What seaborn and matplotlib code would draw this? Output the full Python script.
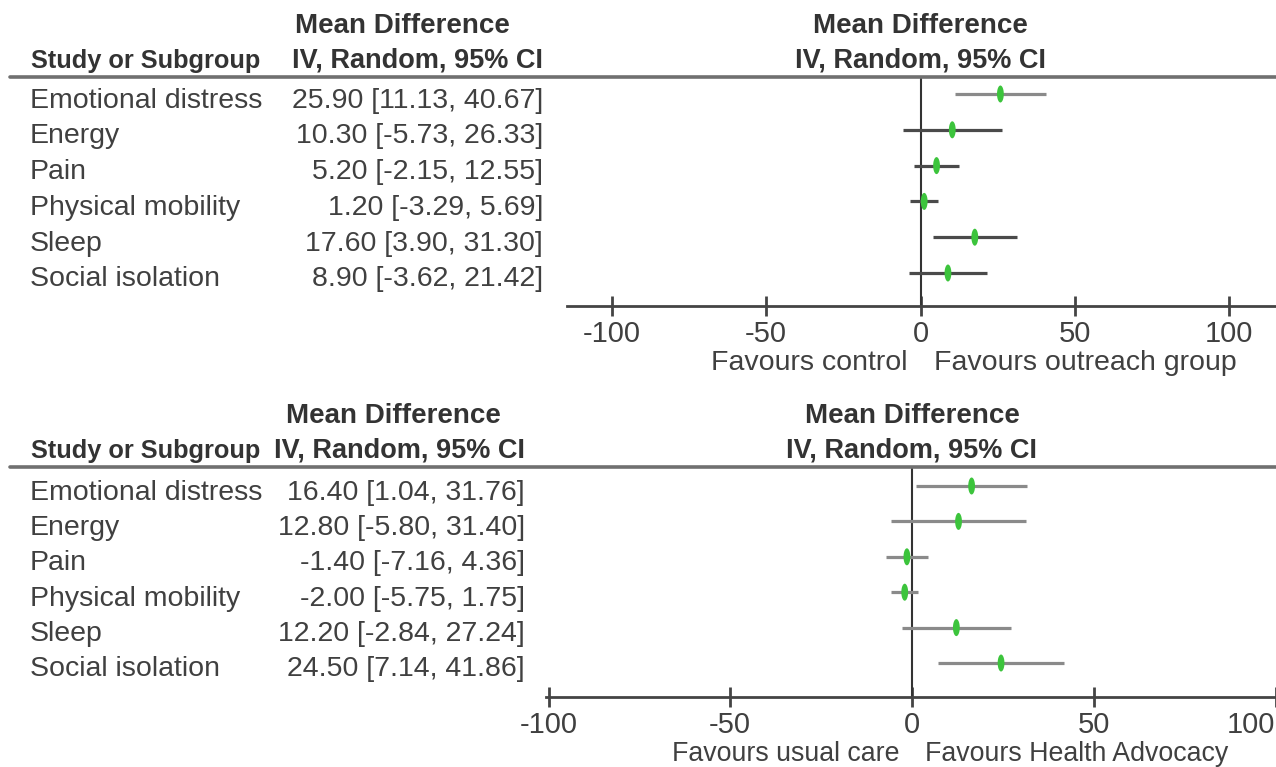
import numpy as np
import pandas as pd
import matplotlib
matplotlib.use("Agg")
import matplotlib.pyplot as plt
import seaborn as sns
from matplotlib.path import Path
from matplotlib.lines import Line2D
from matplotlib.transforms import blended_transform_factory

# ---------------- data ----------------
outcomes = ["Emotional distress", "Energy", "Pain", "Physical mobility", "Sleep", "Social isolation"]

outreach_md = [25.90, 10.30, 5.20, 1.20, 17.60, 8.90]
outreach_lo = [11.13, -5.73, -2.15, -3.29, 3.90, -3.62]
outreach_hi = [40.67, 26.33, 12.55, 5.69, 31.30, 21.42]

advocacy_md = [16.40, 12.80, -1.40, -2.00, 12.20, 24.50]
advocacy_lo = [1.04, -5.80, -7.16, -5.75, -2.84, 7.14]
advocacy_hi = [31.76, 31.40, 4.36, 1.75, 27.24, 41.86]

tick_values = [-100, -50, 0, 50, 100]
favours_top = ("Favours control", "Favours outreach group")
favours_bottom = ("Favours usual care", "Favours Health Advocacy")
header_left = "Study or Subgroup"
header_md = "Mean Difference"
header_method = "IV, Random, 95% CI"

# ---------------- style ----------------
sns.set_theme(style="white")
plt.rcParams["font.family"] = ["Liberation Sans", "DejaVu Sans"]
TXT = "#404040"
HDR = "#333333"
FS = 20.5
W, H = 1276, 767

fig = plt.figure(figsize=(W / 100, H / 100), dpi=100)
fig.patch.set_facecolor("white")

def fx(x):
    return x / W

def fy(y):
    return 1 - y / H

# ellipse marker (vertical)
t = np.linspace(0, 2 * np.pi, 40)
ell = Path(np.column_stack([0.40 * np.cos(t), np.sin(t)]))


def panel(md, lo, hi, ci_colors, geom, favours, fav_fs):
    (ax_l, ax_r, y_head, y_axis, row0, row_step, x0px, px_per_unit,
     val_right, md_center, y_mdb, y_ivb) = geom
    df = pd.DataFrame({"outcome": outcomes, "md": md, "lo": lo, "hi": hi,
                       "row": np.arange(len(outcomes))})
    ax = fig.add_axes([fx(ax_l), fy(y_axis), fx(ax_r - ax_l), (y_axis - y_head) / H])
    ax.set_xlim((ax_l - x0px) / px_per_unit, (ax_r - x0px) / px_per_unit)
    ax.set_ylim((y_axis - row0) / row_step, (y_head - row0) / row_step)
    ax.axvline(0, color="#333333", lw=1.5, zorder=1)
    ax.hlines(df["row"], df["lo"], df["hi"], colors=ci_colors, lw=2.3, zorder=2)
    sns.scatterplot(data=df, x="md", y="row", marker=ell, s=150, color="#3cc43c",
                    edgecolor="none", linewidth=0, ax=ax, zorder=3, legend=False)
    for s in ["left", "right", "top"]:
        ax.spines[s].set_visible(False)
    ax.spines["bottom"].set_color("#444444")
    ax.spines["bottom"].set_linewidth(2)
    ax.set_xticks(tick_values)
    ax.set_xticklabels([str(v) for v in tick_values])
    ax.tick_params(axis="x", direction="inout", length=14, width=2, color="#444444",
                   labelsize=FS + 0.5, labelcolor=TXT, pad=3, bottom=True)
    ax.set_yticks([])
    ax.set_xlabel("")
    ax.set_ylabel("")
    ax.patch.set_alpha(0)

    # header rule
    fig.add_artist(Line2D([fx(10), 1.0], [fy(y_head), fy(y_head)], color="#707070", lw=2.6))

    # row labels and values
    tr = blended_transform_factory(fig.transFigure, ax.transData)
    off = 13.5 / row_step
    for r, row in df.iterrows():
        ax.text(fx(30), row["row"] + off, row["outcome"], transform=tr, ha="left",
                va="baseline", fontsize=FS, color=TXT)
        ax.text(fx(val_right), row["row"] + off,
                f"{row['md']:.2f} [{row['lo']:.2f}, {row['hi']:.2f}]",
                transform=tr, ha="right", va="baseline", fontsize=FS, color=TXT)

    # headers
    fig.text(fx(md_center), fy(y_mdb), header_md, ha="center", va="baseline",
             fontsize=20, fontweight="bold", color=HDR)
    fig.text(fx(val_right), fy(y_ivb), header_method, ha="right", va="baseline",
             fontsize=19.5, fontweight="bold", color=HDR)
    fig.text(fx(31), fy(y_ivb), header_left, ha="left", va="baseline",
             fontsize=18.3, fontweight="bold", color=HDR)
    trx = blended_transform_factory(ax.transData, fig.transFigure)
    ax.text(0, fy(y_mdb), header_md, transform=trx, ha="center", va="baseline",
            fontsize=20, fontweight="bold", color=HDR)
    ax.text(0, fy(y_ivb), header_method, transform=trx, ha="center", va="baseline",
            fontsize=19.5, fontweight="bold", color=HDR)

    # favours labels
    gap = 13 / px_per_unit
    ax.text(-gap, fy(y_axis + 64), favours[0], transform=trx, ha="right",
            va="baseline", fontsize=fav_fs, color=TXT)
    ax.text(gap, fy(y_axis + 64), favours[1], transform=trx, ha="left",
            va="baseline", fontsize=fav_fs, color=TXT)
    return ax


top_geom = (567, 1276, 77, 306, 94, 35.8, 920.5, 3.085, 543, 402, 33, 68)
bot_geom = (546, 1276, 467, 697, 486, 35.4, 912, 3.635, 525, 393, 423, 458)

ax_top = panel(outreach_md, outreach_lo, outreach_hi,
               ["#8a8a8a"] + ["#4a4a4a"] * 5, top_geom, favours_top, FS)
ax_bot = panel(advocacy_md, advocacy_lo, advocacy_hi,
               ["#8a8a8a"] * 6, bot_geom, favours_bottom, 19.3)

# keep the last bottom tick label inside the figure
lbls = ax_bot.get_xticklabels()
lbls[-1].set_horizontalalignment("right")

fig.savefig("out.png", dpi=100, facecolor="white")
